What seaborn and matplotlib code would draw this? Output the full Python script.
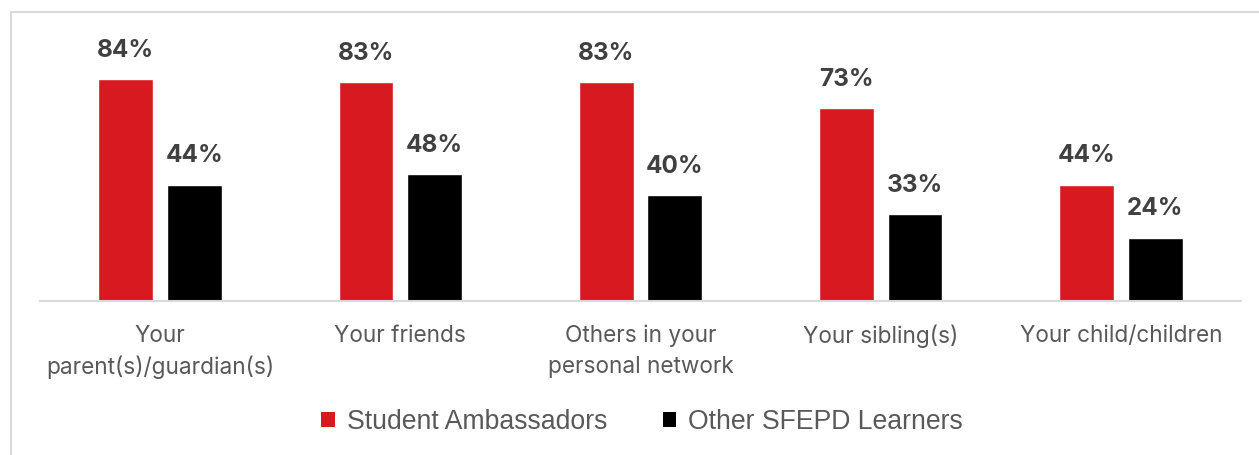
import matplotlib
matplotlib.use("Agg")
import matplotlib.pyplot as plt
import seaborn as sns
import pandas as pd
from matplotlib.patches import Rectangle, Patch

categories = ["Your\nparent(s)/guardian(s)", "Your friends", "Others in your\npersonal network",
              "Your sibling(s)", "Your child/children"]
series_names = ["Student Ambassadors", "Other SFEPD Learners"]
ambassadors = [84, 83, 83, 73, 44]
other_learners = [44, 48, 40, 33, 24]
colors = ["#D71920", "#000000"]

df = pd.DataFrame({
    "category": categories * 2,
    "group": [series_names[0]] * len(categories) + [series_names[1]] * len(categories),
    "value": ambassadors + other_learners,
})

sns.set_theme(style="white")
plt.rcParams["font.family"] = ["Inter", "DejaVu Sans"]

W, H = 1259, 455
fig = plt.figure(figsize=(W / 100, H / 100), dpi=100)
ax = fig.add_axes([40 / W, 154 / H, 1201 / W, 264 / H])

sns.barplot(data=df, x="category", y="value", hue="group", palette=colors,
            width=0.571, gap=0.2, ax=ax, legend=False, saturation=1, errorbar=None)

ax.set_ylim(0, 100)
ax.set_xlim(-0.5, len(categories) - 0.5)
for s in ["top", "right", "left"]:
    ax.spines[s].set_visible(False)
ax.spines["bottom"].set_color("#D9D9D9")
ax.spines["bottom"].set_linewidth(1.5)
ax.set_yticks([])
ax.set_xlabel("")
ax.set_ylabel("")
ax.tick_params(axis="x", length=0, pad=17, labelsize=16.3, labelcolor="#595959")
for t in ax.get_xticklabels():
    t.set_linespacing(1.5)

for cont in ax.containers:
    for bar in cont:
        h = bar.get_height()
        ax.annotate(f"{h:.0f}%", (bar.get_x() + bar.get_width() / 2, h),
                    xytext=(0, 12.5), textcoords="offset points",
                    ha="center", va="bottom", fontsize=17.5, fontweight="bold",
                    color="#404040")

handles = [Patch(facecolor=c, edgecolor="none") for c in colors]
fig.legend(handles, series_names, loc="center", bbox_to_anchor=(0.51, 1 - 422 / H),
           ncol=2, frameon=False, handlelength=0.5, handleheight=0.5,
           handletextpad=0.45, columnspacing=2.1, labelcolor="#595959",
           prop={"family": ["Liberation Sans", "DejaVu Sans"], "size": 19.2})

fig.patches.append(Rectangle((11 / W, -0.1), 2, 0.1 + 443 / H, transform=fig.transFigure,
                             fill=False, edgecolor="#D9D9D9", linewidth=1.5))

fig.savefig("out.png", dpi=100)
